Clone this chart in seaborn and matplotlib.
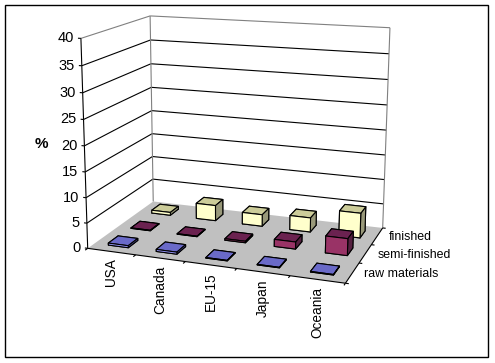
import numpy as np
import pandas as pd
import matplotlib
matplotlib.use("Agg")
import matplotlib.pyplot as plt
from matplotlib.patches import Rectangle
from mpl_toolkits.mplot3d.art3d import Poly3DCollection
import seaborn as sns

categories = ["USA", "Canada", "EU-15", "Japan", "Oceania"]
series = ["raw materials", "semi-finished", "finished"]
raw_materials = [0.4, 0.4, 0.1, 0.1, 0.1]
semi_finished = [0.1, 0.1, 0.3, 1.4, 3.3]
finished = [0.6, 3.2, 2.4, 2.9, 5.0]
z_ticks = [0, 5, 10, 15, 20, 25, 30, 35, 40]

sns.set_theme(style="white")
plt.rcParams["font.family"] = ["Liberation Sans", "DejaVu Sans"]

W, H = 495, 363
XMAX, YMAX, ZMAX = len(categories), len(series), z_ticks[-1]

df = pd.DataFrame({"raw materials": raw_materials, "semi-finished": semi_finished,
                   "finished": finished}, index=categories)

# face colours of a bar: bottom, top, front, back, left, right
faces = {
    "raw materials": ["#6666cc", "#6a6ac8", "#9999ff", "#6666cc", "#6666cc", "#5858a8"],
    "semi-finished": ["#662244", "#6b2250", "#993366", "#662244", "#662244", "#552040"],
    "finished": ["#a0a080", "#cccc99", "#ffffcc", "#a0a080", "#a0a080", "#99997a"],
}
grey_line = "#808080"

# camera: fitted from where the chart's box corners fall in the picture
box_3d = np.array([(0, 0, 0), (XMAX, 0, 0), (XMAX, YMAX, 0), (0, YMAX, 0),
                   (0, 0, ZMAX), (0, YMAX, ZMAX), (XMAX, YMAX, ZMAX)], float)
box_px = np.array([(88, 248), (345, 284), (383, 227), (153, 202),
                   (81, 38), (150, 16), (390, 28)], float)
rows = []
for (x, y, z), (u, v) in zip(box_3d, box_px):
    rows.append([x, y, z, 1, 0, 0, 0, 0, -u * x, -u * y, -u * z, -u])
    rows.append([0, 0, 0, 0, x, y, z, 1, -v * x, -v * y, -v * z, -v])
P = np.linalg.svd(np.array(rows))[2][-1].reshape(3, 4)
if P[2] @ np.array([0, 0, 0, 1]) < 0:
    P = -P
# depth stays negative over the whole box (mplot3d blanks lines with positive depth)
depth_row = np.array([-0.3 / XMAX, 1.0 / YMAX, -0.3 / ZMAX, -1.5]) * 0.3 * P[2, 3]


def project(x, y, z):
    q = P @ np.array([x, y, z, 1.0])
    return q[0] / q[2], q[1] / q[2]


fig = plt.figure(figsize=(W / 100, H / 100), dpi=100, facecolor="white")
ax = fig.add_subplot(projection="3d", computed_zorder=False)
ax.set_position([0, 0, 1, 1])
ax.set_axis_off()
ax.patch.set_visible(False)
ax.apply_aspect = lambda position=None: None


def get_proj():
    x0, x1 = ax.viewLim.intervalx
    y0, y1 = ax.viewLim.intervaly
    sx, sy = (x1 - x0) / W, (y1 - y0) / H
    return np.vstack([sx * P[0] + x0 * P[2], -sy * P[1] + y1 * P[2], depth_row, P[2]])


ax.get_proj = get_proj


def line(xs, ys, zs, color="black", zorder=2):
    ax.plot(xs, ys, zs, color=color, lw=0.8, zorder=zorder, clip_on=False,
            solid_capstyle="butt")


def label(x, y, z, s, dx=0, dy=0, **kw):
    u, v = project(x, y, z)
    fig.text((u + dx) / W, 1 - (v + dy) / H, s, color="black", **kw)


# floor
floor = [[(0, 0, 0), (XMAX, 0, 0), (XMAX, YMAX, 0), (0, YMAX, 0)]]
ax.add_collection3d(Poly3DCollection(floor, facecolors="#c0c0c0", edgecolors="none", zorder=1))

# walls
for z in z_ticks[1:]:
    c = grey_line if z == ZMAX else "black"
    line([0, 0], [0, YMAX], [z, z], c, 1.5)
    line([0, XMAX], [YMAX, YMAX], [z, z], c, 1.5)
line([0, 0], [YMAX, YMAX], [0, ZMAX], grey_line, 1.5)
line([XMAX, XMAX], [YMAX, YMAX], [0, ZMAX], grey_line, 1.5)

# axes with ticks
line([0, 0], [0, 0], [0, ZMAX])
line([0, XMAX], [0, 0], [0, 0])
line([XMAX, XMAX], [0, YMAX], [0, 0])
for z in z_ticks:
    line([-0.06, 0], [0, 0], [z, z])
    label(0, 0, z, str(z), dx=-7, ha="right", va="center", fontsize=10.5)
for x in range(XMAX + 1):
    line([x, x], [-0.1, 0], [0, 0])
for y in range(YMAX + 1):
    line([XMAX, XMAX + 0.06], [y, y], [0, 0])

# bars, painted from the back row to the front row
bar_w, bar_d = 0.42, 0.42
order = 10
for j, name in reversed(list(enumerate(series))):
    for i, value in enumerate(df[name]):
        ax.bar3d(i + (1 - bar_w) / 2, j + (1 - bar_d) / 2, 0, bar_w, bar_d, value,
                 color=faces[name], shade=False, edgecolor="black", linewidth=0.8,
                 zsort="average", zorder=order)
        order += 1

# text
for i, name in enumerate(categories):
    label(i + 0.5, 0, 0, name, dx=-7, dy=7, rotation=90, ha="right", va="top", fontsize=9.8,
          rotation_mode="anchor")
for j, name in enumerate(series):
    label(XMAX, j + 0.5, 0, name, dx=12, dy=1, ha="left", va="center", fontsize=8.9)
fig.text(41 / W, 1 - 144 / H, "%", ha="center", va="center", fontsize=11, fontweight="bold", color="black")

fig.add_artist(Rectangle((5 / W, 1 - 357 / H), 483 / W, 352 / H, transform=fig.transFigure,
                         fill=False, edgecolor="black", lw=1.0))
fig.savefig("out.png", dpi=100, facecolor="white")
